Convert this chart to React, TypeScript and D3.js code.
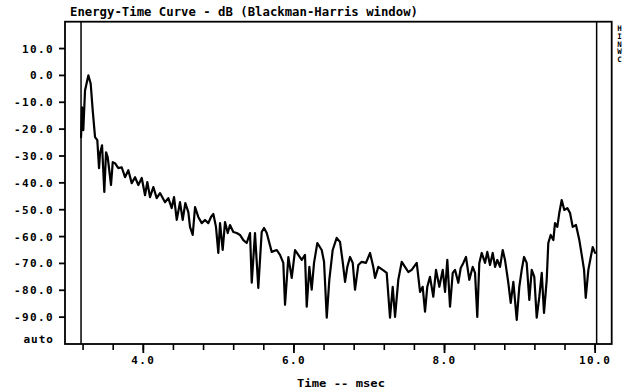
import * as d3 from 'd3';

// Energy-time curve: time (msec) / level (dB)
const TIME = [
  3.173, 3.186, 3.203, 3.226, 3.27, 3.301, 3.328, 3.359, 3.389, 3.412, 3.425, 3.452, 3.482, 3.505, 3.527,
  3.571, 3.594, 3.624, 3.668, 3.713, 3.757, 3.801, 3.846, 3.89, 3.934, 3.979, 4.023, 4.053, 4.089, 4.133,
  4.178, 4.222, 4.288, 4.332, 4.377, 4.408, 4.444, 4.487, 4.523, 4.558, 4.598, 4.62, 4.656, 4.687, 4.73,
  4.776, 4.819, 4.863, 4.899, 4.93, 4.965, 4.996, 5.019, 5.054, 5.085, 5.121, 5.151, 5.195, 5.24, 5.284,
  5.328, 5.373, 5.417, 5.44, 5.483, 5.527, 5.572, 5.603, 5.639, 5.705, 5.772, 5.815, 5.859, 5.882, 5.926,
  5.971, 6.015, 6.058, 6.104, 6.147, 6.17, 6.205, 6.236, 6.267, 6.311, 6.369, 6.4, 6.436, 6.47, 6.515,
  6.568, 6.612, 6.648, 6.679, 6.709, 6.745, 6.781, 6.811, 6.855, 6.9, 6.957, 7.011, 7.054, 7.077, 7.121,
  7.179, 7.232, 7.276, 7.312, 7.343, 7.386, 7.432, 7.475, 7.519, 7.564, 7.631, 7.675, 7.71, 7.741, 7.771,
  7.807, 7.851, 7.887, 7.931, 7.976, 8.007, 8.037, 8.073, 8.109, 8.139, 8.183, 8.215, 8.25, 8.285, 8.329,
  8.374, 8.405, 8.435, 8.462, 8.494, 8.538, 8.568, 8.604, 8.64, 8.671, 8.701, 8.737, 8.773, 8.803, 8.847,
  8.879, 8.914, 8.959, 8.993, 9.025, 9.056, 9.091, 9.126, 9.158, 9.192, 9.224, 9.259, 9.291, 9.321, 9.357,
  9.378, 9.41, 9.445, 9.467, 9.498, 9.524, 9.556, 9.591, 9.631, 9.667, 9.702, 9.746, 9.79, 9.822, 9.853,
  9.875, 9.91, 9.942, 9.968, 9.999,
];

const LEVEL = [
  -23.0, -11.9, -20.4, -5.6, 0.0, -3.0, -13.0, -23.0, -24.1, -34.5, -29.0, -26.0, -43.4, -28.6, -30.4,
  -40.8, -32.3, -32.7, -34.5, -34.2, -37.9, -35.3, -40.1, -37.9, -40.8, -38.2, -44.6, -39.7, -45.3, -41.6,
  -45.7, -43.8, -47.2, -45.7, -49.4, -45.3, -53.8, -47.2, -53.8, -47.5, -50.9, -56.4, -59.4, -49.0, -52.7,
  -55.0, -53.8, -55.0, -52.7, -51.6, -56.4, -66.1, -55.0, -65.0, -54.6, -58.7, -55.7, -58.3, -58.7, -59.4,
  -61.3, -62.4, -58.7, -77.2, -58.7, -79.1, -58.3, -56.8, -58.7, -65.7, -65.0, -66.8, -69.8, -85.4, -67.6,
  -75.4, -65.0, -66.8, -68.7, -66.8, -86.1, -71.3, -79.8, -69.8, -62.4, -65.0, -69.4, -90.2, -76.1, -65.0,
  -60.5, -62.0, -69.4, -76.9, -71.3, -67.6, -69.8, -79.8, -70.6, -69.4, -69.8, -66.1, -71.3, -75.4, -71.3,
  -72.4, -73.5, -90.2, -78.7, -89.9, -76.1, -69.4, -71.3, -73.2, -72.4, -69.8, -80.6, -78.7, -88.0, -78.7,
  -75.0, -82.4, -72.4, -78.7, -72.4, -80.6, -68.7, -86.1, -73.5, -72.4, -77.2, -71.7, -69.8, -67.6, -76.1,
  -71.3, -73.5, -89.9, -69.8, -66.1, -69.8, -65.7, -70.6, -66.1, -71.3, -68.7, -71.3, -65.0, -68.7, -77.2,
  -84.7, -76.9, -91.0, -78.7, -72.4, -67.6, -69.8, -83.6, -72.4, -75.0, -90.2, -82.4, -73.5, -88.4, -76.1,
  -62.4, -59.4, -61.3, -55.0, -56.4, -51.2, -46.4, -50.1, -49.4, -51.2, -56.4, -55.7, -61.3, -66.8, -72.4,
  -82.8, -72.4, -67.6, -63.9, -66.1,
];

const Y_TICKS = [10, 0, -10, -20, -30, -40, -50, -60, -70, -80, -90];
const X_MAJOR = [4, 6, 8, 10];
const X_MINOR = d3.range(0, 18).map(i => 3.2 + i * 0.4);
const CURSORS = [3.173, 10.02];

const TITLE = 'Energy-Time Curve - dB (Blackman-Harris window)';
const X_LABEL = 'Time -- msec';
const SIDE_CHARS = ['H', 'I', 'N', 'W', 'C'];

const W = 628;
const H = 392;
const FONT = '"DejaVu Sans Mono", "Liberation Mono", monospace';

export default function App() {
  const left = 65, right = 611.7, top = 21.7, bottom = 344;

  const x = d3.scaleLinear().domain([2.96, 10.22]).range([left, right]);
  const y = d3.scaleLinear().domain([-100, 20]).range([bottom, top]);

  const line = d3.line<number>()
    .x((_, i) => x(TIME[i]))
    .y(d => y(d));

  return (
    <svg width={W} height={H} style={{ position: 'absolute', left: 0, top: 0, background: '#fff' }}>
      {/* Title */}
      <text x={70} y={16} fontFamily={FONT} fontWeight="bold" fontSize={12.5}
        textLength={348} lengthAdjust="spacingAndGlyphs" fill="#000">
        {TITLE}
      </text>

      {/* Frame */}
      <rect x={left} y={top} width={right - left} height={bottom - top}
        fill="none" stroke="#000" strokeWidth={1.8} />

      {/* Cursor lines */}
      {CURSORS.map(c => (
        <line key={c} x1={x(c)} x2={x(c)} y1={top} y2={bottom} stroke="#000" strokeWidth={1.5} />
      ))}

      {/* Y axis ticks and labels */}
      {Y_TICKS.map(t => (
        <g key={t}>
          <line x1={left - 6} x2={left} y1={y(t)} y2={y(t)} stroke="#000" strokeWidth={1.8} />
          <text x={54} y={y(t) + 4} textAnchor="end" fontFamily={FONT} fontWeight="bold"
            fontSize={11} letterSpacing={1.4} fill="#000">
            {t.toFixed(1)}
          </text>
        </g>
      ))}
      <text x={54} y={y(-100) - 1} textAnchor="end" fontFamily={FONT} fontWeight="bold"
        fontSize={11} letterSpacing={1} fill="#000">
        auto
      </text>

      {/* X axis ticks and labels */}
      {X_MINOR.map(t => (
        <line key={t} x1={x(t)} x2={x(t)} y1={bottom} y2={bottom + 6} stroke="#000" strokeWidth={1.6} />
      ))}
      {X_MAJOR.map(t => (
        <g key={t}>
          <line x1={x(t)} x2={x(t)} y1={bottom} y2={bottom + 9} stroke="#000" strokeWidth={1.8} />
          <text x={x(t)} y={364} textAnchor="middle" fontFamily={FONT} fontWeight="bold"
            fontSize={11} letterSpacing={1.4} fill="#000">
            {t.toFixed(1)}
          </text>
        </g>
      ))}
      <text x={297} y={387} fontFamily={FONT} fontWeight="bold" fontSize={11}
        textLength={88} lengthAdjust="spacingAndGlyphs" fill="#000">
        {X_LABEL}
      </text>

      {/* Side marker text */}
      {SIDE_CHARS.map((c, i) => (
        <text key={i} x={619.5} y={31 + i * 7.8} textAnchor="middle" fontFamily={FONT}
          fontWeight="bold" fontSize={7.5} fill="#000">
          {c}
        </text>
      ))}

      {/* ETC curve */}
      <path d={line(LEVEL) ?? ''} fill="none" stroke="#000" strokeWidth={2.2}
        strokeLinejoin="round" strokeLinecap="round" />
    </svg>
  );
}
